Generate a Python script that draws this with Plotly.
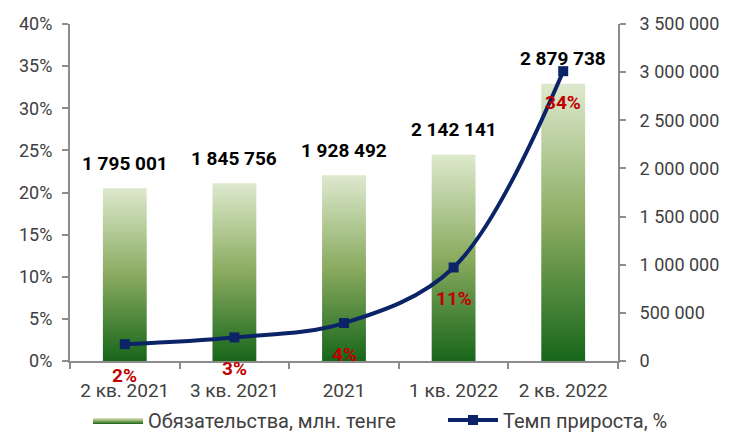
import plotly.graph_objects as go

# ---- data ----
categories = ["2 кв. 2021", "3 кв. 2021", "2021", "1 кв. 2022", "2 кв. 2022"]
liabilities = [1795001, 1845756, 1928492, 2142141, 2879738]
liab_labels = ["1 795 001", "1 845 756", "1 928 492", "2 142 141", "2 879 738"]
growth_pct = [2.0, 2.8, 4.5, 11.1, 34.4]
growth_labels = ["2%", "3%", "4%", "11%", "34%"]
pct_ticks = [0, 5, 10, 15, 20, 25, 30, 35, 40]
pct_tick_labels = [f"{p}%" for p in pct_ticks]
val_ticks = [0, 500000, 1000000, 1500000, 2000000, 2500000, 3000000, 3500000]

# ---- style ----
FONT = "Roboto"
TXT = "#404040"
AXIS = "#8c8c8c"
NAVY = "#0b2467"
RED = "#c00000"
BAR_W = 0.4
GRAD = [[0.0, "#17661a"], [0.5, "#8aab60"], [1.0, "#dde9cd"]]

fig = go.Figure()

for i, v in enumerate(liabilities):
    x0, x1 = i - BAR_W / 2, i + BAR_W / 2
    fig.add_trace(go.Scatter(
        x=[x0, x1, x1, x0, x0], y=[0, 0, v, v, 0],
        mode="lines", fill="toself",
        line=dict(width=0, color="#5c8d3e"),
        fillcolor="#7aa255",
        fillgradient=dict(type="vertical", colorscale=GRAD),
        name="Обязательства, млн. тенге",
        legendgroup="bars", showlegend=(i == 0), legend="legend",
        hoverinfo="skip", xaxis="x", yaxis="y",
    ))

fig.add_trace(go.Scatter(
    x=list(range(len(categories))), y=growth_pct,
    mode="lines+markers",
    line=dict(color=NAVY, width=4, shape="spline"),
    marker=dict(symbol="square", size=10, color=NAVY),
    name="Темп прироста, %", xaxis="x", yaxis="y2", legend="legend2",
))

annotations = []
for i, (v, t) in enumerate(zip(liabilities, liab_labels)):
    annotations.append(dict(
        x=i, y=v, xref="x", yref="y", text=t, showarrow=False, yshift=25,
        font=dict(family=FONT, size=19, color="#000000", weight="bold"),
    ))
for i, (g, t) in enumerate(zip(growth_pct, growth_labels)):
    annotations.append(dict(
        x=i, y=g, xref="x", yref="y2", text=t, showarrow=False, yshift=-31,
        font=dict(family=FONT, size=19, color=RED, weight="bold"),
    ))

boundaries = [i - 0.5 for i in range(len(categories) + 1)]

legend_common = dict(
    orientation="h", xref="container", xanchor="left",
    y=0.053, yref="container", yanchor="middle",
    font=dict(family=FONT, size=20, color=TXT),
    itemwidth=50, bgcolor="rgba(0,0,0,0)",
)

fig.update_layout(
    width=740, height=435,
    margin=dict(l=62, r=130, t=16, b=82, autoexpand=False),
    paper_bgcolor="white", plot_bgcolor="white",
    separators=". ",
    font=dict(family=FONT, size=19, color=TXT),
    showlegend=True,
    legend=dict(x=80 / 740, **legend_common),
    legend2=dict(x=435 / 740, **legend_common),
    xaxis=dict(
        range=[-0.5, len(categories) - 0.5],
        tickmode="array", tickvals=list(range(len(categories))), ticktext=categories,
        ticks="", showline=True, linecolor=AXIS, linewidth=2,
        showgrid=False, zeroline=False, ticklabelstandoff=11,
        minor=dict(tickmode="array", tickvals=boundaries, ticks="outside",
                   ticklen=6, tickcolor=AXIS, tickwidth=2, showgrid=False),
        tickfont=dict(family=FONT, size=19, color=TXT),
    ),
    yaxis=dict(
        side="right", range=[0, 3500000],
        tickmode="array", tickvals=val_ticks, tickformat=",d",
        ticks="outside", ticklen=6, tickcolor=AXIS, tickwidth=2,
        showline=True, linecolor=AXIS, linewidth=2,
        showgrid=False, zeroline=False, ticklabelstandoff=10,
        tickfont=dict(family=FONT, size=18, color=TXT),
    ),
    yaxis2=dict(
        side="left", overlaying="y", anchor="x", range=[0, 40],
        tickmode="array", tickvals=pct_ticks, ticktext=pct_tick_labels,
        ticks="outside", ticklen=6, tickcolor=AXIS, tickwidth=2,
        showline=True, linecolor=AXIS, linewidth=2,
        showgrid=False, zeroline=False, ticklabelstandoff=6,
        tickfont=dict(family=FONT, size=18, color=TXT),
    ),
    annotations=annotations,
)

fig.write_html("out.html")
